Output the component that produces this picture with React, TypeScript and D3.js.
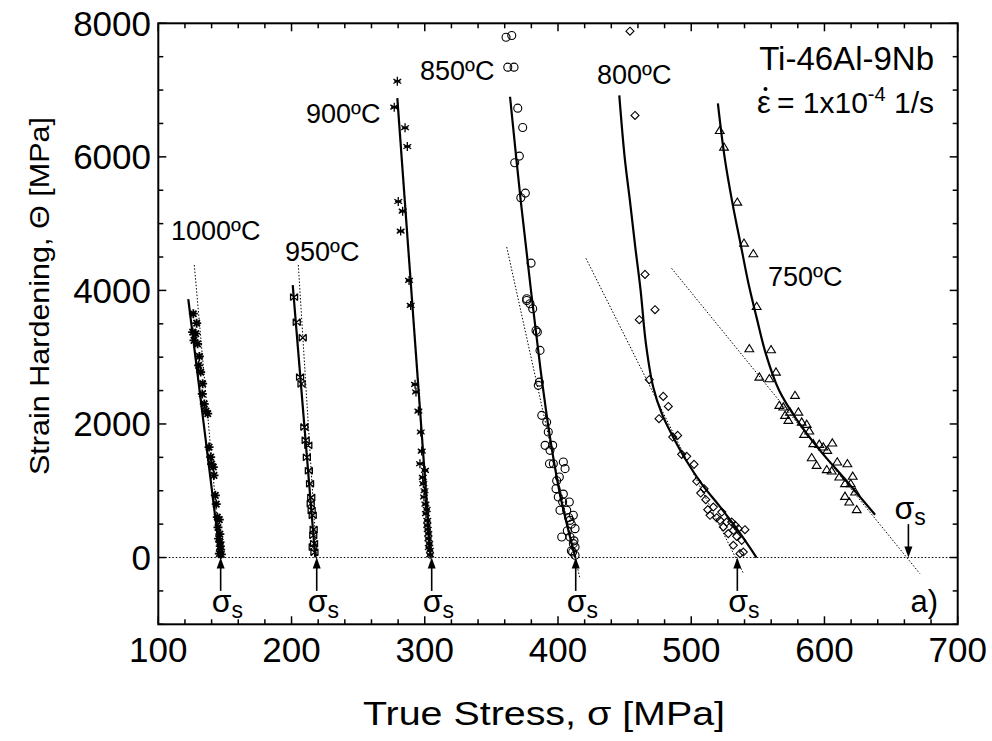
import React from 'react';
import * as d3 from 'd3';

const W = 992;
const H = 741;
const FONT = '"Liberation Sans", Arial, Helvetica, sans-serif';

const xDomain: [number, number] = [100, 700];
const yDomain: [number, number] = [-1000, 8000];
const xTickLabels = [100, 200, 300, 400, 500, 600, 700];
const yTickLabels = [0, 2000, 4000, 6000, 8000];

const temperatures = ['1000ºC', '950ºC', '900ºC', '850ºC', '800ºC', '750ºC'];
const sigmaS = [146.8, 218.9, 305.2, 413.3, 534.6, 663];

const pts1000: [number, number][] = [
  [126.3, 3651], [128.8, 3510], [125.8, 3376], [128.1, 3352], [126.8, 3252], [129.5, 3200],
  [130.8, 3012], [130.3, 2877], [131.8, 2777], [133.3, 2603], [133, 2450], [134.5, 2300],
  [135.8, 2193], [137.1, 2154], [138.1, 1654], [139.3, 1504], [140, 1400], [141.3, 1355],
  [141.8, 1231], [142.8, 931], [143.5, 800], [144.3, 606], [145.8, 567], [144.8, 450],
  [146.2, 350], [145.3, 283], [146.3, 232], [146.5, 170], [146.8, 118], [145.8, 58], [147.3, 48],
];
const pts950: [number, number][] = [
  [201.9, 3900], [203.9, 3525], [208.4, 3292], [206.4, 2702], [207.5, 2600], [209.6, 1954],
  [210.6, 1755], [212.6, 1680], [211.5, 1500], [213, 1300], [213.9, 1106], [214.8, 900],
  [214.4, 807], [215.1, 706], [215.9, 632], [216.6, 420], [216.3, 332], [216.9, 208],
  [215.9, 157], [217.2, 80],
];
const pts900: [number, number][] = [
  [279.4, 7133], [277.1, 6744], [285.2, 6435], [286.9, 6156], [280.1, 5332], [283.4, 5187],
  [281.9, 4888], [288.2, 4150], [289.4, 3775], [292.7, 2593], [293.4, 2478], [295.2, 2193],
  [297, 1879], [297.7, 1594], [296.4, 1405], [300.2, 1305], [298.5, 1200], [298.9, 1106],
  [299.8, 1000], [299.4, 906], [300.5, 800], [301.5, 720], [300.9, 657], [301.9, 557],
  [301.9, 482], [302.2, 420], [302.7, 358], [302.7, 283], [303.4, 208], [303, 150],
  [303.9, 108], [304, 40],
];
const pts850: [number, number][] = [
  [361, 7792], [365.3, 7817], [362.3, 7343], [367, 7343], [369.8, 6729], [373.5, 6440],
  [371, 6011], [367.5, 5912], [375.5, 5457], [372.1, 5388], [379.8, 4409], [376.5, 3876],
  [376.5, 3850], [379, 3801], [381, 3726], [383.5, 3401], [384.5, 3376], [386.5, 3102],
  [386, 2627], [385.2, 2578], [387.8, 2129], [391.5, 2028], [392.7, 1879], [390.3, 1680],
  [396, 1680], [394, 1605], [393.6, 1405], [396.5, 1405], [404, 1430], [405.3, 1331],
  [401, 1205], [399, 1150], [398.5, 1031], [400.2, 906], [404, 950], [403.5, 831],
  [408.5, 831], [401.5, 707], [406.5, 707], [411.5, 632], [408, 600], [409, 557],
  [410, 500], [412.8, 432], [407, 400], [402.8, 307], [409, 307], [412, 250], [411.5, 208],
  [412.8, 157], [410, 100], [411, 82], [412.8, 33],
];
const pts800: [number, number][] = [
  [454, 7882], [457.8, 6620], [465.3, 4240], [472.8, 3711], [461, 3561], [468.5, 2663],
  [479, 2413], [482.8, 2263], [475.8, 2079], [486.1, 1804], [489.8, 1829], [492.8, 1545],
  [496.6, 1515], [502.1, 1395], [504.1, 1141], [507.1, 966], [509.6, 1031], [510.9, 867],
  [512.4, 717], [516.6, 756], [514.1, 632], [522.9, 681], [519.1, 597], [521.6, 557],
  [526.6, 531], [530.4, 531], [524.1, 457], [533, 482], [531.6, 407], [535.3, 432],
  [540.3, 417], [527.8, 358], [534.1, 317], [537.9, 257], [531.6, 183], [539.1, 82], [536.6, 58],
];
const pts750: [number, number][] = [
  [521.4, 6394], [524.6, 6145], [534.6, 5322], [539.6, 4708], [546.6, 4549], [549.1, 3760],
  [543.6, 3127], [559.9, 3112], [563.6, 2777], [551.1, 2702], [558.6, 2678], [577.9, 2428],
  [566.1, 2278], [569.1, 2253], [574.1, 2178], [580.4, 2178], [570.4, 2129], [572.9, 2054],
  [582.9, 2028], [586.7, 1994], [588.6, 1894], [584.7, 1844], [591.6, 1705], [596.1, 1695],
  [599.1, 1654], [602.1, 1605], [605.9, 1714], [590.4, 1495], [594.1, 1380], [601.7, 1316],
  [605.4, 1295], [609.6, 1430], [617.2, 1405], [611.1, 1205], [615.4, 1106], [621.2, 1216],
  [619.7, 1106], [623, 981], [615.4, 916], [618.6, 831], [624.2, 717],
];

const fit1000: [number, number][] = [[122.5, 3870], [146.5, 0]];
const fit950: [number, number][] = [[200.9, 4080], [217.8, 0]];
const fit900: [number, number][] = [[279.4, 6880], [304.5, 0]];
const fit850: [number, number][] = [[364, 6900], [372, 5350], [380, 3950], [387, 2800], [394, 1800], [402, 900], [413, 0]];
const fit800: [number, number][] = [
  [446, 6920], [450, 6000], [454, 5340], [458, 4650], [462, 4000], [466, 3200], [471.5, 2550],
  [478, 2150], [486, 1820], [496, 1460], [508, 1100], [522, 750], [536, 380], [549, 0],
];
const fit750: [number, number][] = [
  [520, 6800], [525, 6000], [531, 5300], [537, 4700], [543, 4100], [549, 3600], [556, 3050],
  [566, 2500], [578, 2100], [596, 1620], [616, 1160], [638, 640],
];

const dot1000: [number, number][] = [[127, 4380], [147.3, -150]];
const dot950: [number, number][] = [[205.1, 4380], [219.2, -120]];
const dot850: [number, number][] = [[361.5, 4650], [416.5, -320]];
const dot800: [number, number][] = [[421, 4480], [539.5, -250]];
const dot750: [number, number][] = [[485.3, 4330], [671.6, -241]];

const x = d3.scaleLinear().domain(xDomain).range([158.3, 957.7]);
const y = d3.scaleLinear().domain(yDomain).range([624.3, 23.3]);

const star8 = 'M-4.5,0L4.5,0M0,-4.5L0,4.5M-3.2,-3.2L3.2,3.2M-3.2,3.2L3.2,-3.2';
const star6 = 'M0,-4.5L0,4.5M-3.9,-2.25L3.9,2.25M-3.9,2.25L3.9,-2.25M-3.2,0L3.2,0';
const bowtie = 'M-3.5,-3.5L3.5,3.5M-3.5,3.5L3.5,-3.5M-3.5,-3.5L-3.5,3.5M3.5,-3.5L3.5,3.5';
const diamond = 'M0,-4L4,0L0,4L-4,0Z';
const triangle = 'M0,-4.2L4.4,3L-4.4,3Z';

const lineGen = d3.line<[number, number]>().x(d => x(d[0])).y(d => y(d[1]));
const curveGen = d3.line<[number, number]>().x(d => x(d[0])).y(d => y(d[1])).curve(d3.curveCatmullRom.alpha(0.5));

function Markers({ data, kind }: { data: [number, number][]; kind: string }) {
  return (
    <g>
      {data.map((d, i) => {
        const t = `translate(${x(d[0])},${y(d[1])})`;
        if (kind === 'circle') return <circle key={i} cx={x(d[0])} cy={y(d[1])} r={4} fill="none" stroke="#000" strokeWidth={1.1} />;
        if (kind === 'diamond') return <path key={i} d={diamond} transform={t} fill="none" stroke="#000" strokeWidth={1.1} />;
        if (kind === 'triangle') return <path key={i} d={triangle} transform={t} fill="none" stroke="#000" strokeWidth={1.1} />;
        if (kind === 'star8') return <path key={i} d={star8} transform={t} fill="none" stroke="#000" strokeWidth={1.8} />;
        if (kind === 'star6') return <path key={i} d={star6} transform={t} fill="none" stroke="#000" strokeWidth={1.3} />;
        return <path key={i} d={bowtie} transform={t} fill="none" stroke="#000" strokeWidth={1.3} />;
      })}
    </g>
  );
}

function SigmaLabel({ cx, baseline }: { cx: number; baseline: number }) {
  return (
    <text x={cx - 9} y={baseline} fontSize={32} fontFamily={FONT}>
      σ<tspan fontSize={23} dy={6}>s</tspan>
    </text>
  );
}

export default function App() {
  const xMinor = d3.range(100, 701, 20);
  const yMinor = d3.range(-1000, 8001, 500);
  const [x0, x1] = x.range();
  const [yb, yt] = y.range();

  return (
    <svg width={W} height={H} style={{ position: 'absolute', left: 0, top: 0, background: '#fff' }} fontFamily={FONT}>
      <rect x={0} y={0} width={W} height={H} fill="#fff" />

      <line x1={x0} x2={x1} y1={y(0)} y2={y(0)} stroke="#000" strokeWidth={1} strokeDasharray="1.5,2" />

      {[dot1000, dot950, dot850, dot800, dot750].map((d, i) => (
        <path key={i} d={lineGen(d) || ''} fill="none" stroke="#000" strokeWidth={1} strokeDasharray="1.5,1.8" />
      ))}

      <Markers data={pts1000} kind="star8" />
      <Markers data={pts950} kind="bowtie" />
      <Markers data={pts900} kind="star6" />
      <Markers data={pts850} kind="circle" />
      <Markers data={pts800} kind="diamond" />
      <Markers data={pts750} kind="triangle" />

      {[fit1000, fit950, fit900].map((d, i) => (
        <path key={'l' + i} d={lineGen(d) || ''} fill="none" stroke="#000" strokeWidth={2.2} />
      ))}
      {[fit850, fit800, fit750].map((d, i) => (
        <path key={'c' + i} d={curveGen(d) || ''} fill="none" stroke="#000" strokeWidth={2.2} />
      ))}

      {sigmaS.slice(0, 5).map((s, i) => (
        <g key={'a' + i}>
          <line x1={x(s)} x2={x(s)} y1={y(-500)} y2={y(0) + 8} stroke="#000" strokeWidth={1.6} />
          <path d={`M${x(s)},${y(0)}L${x(s) + 4},${y(0) + 11}L${x(s) - 4},${y(0) + 11}Z`} fill="#000" />
          <SigmaLabel cx={x(s)} baseline={612} />
        </g>
      ))}
      <g>
        <line x1={x(sigmaS[5])} x2={x(sigmaS[5])} y1={y(500)} y2={y(0) - 8} stroke="#000" strokeWidth={1.6} />
        <path d={`M${x(sigmaS[5])},${y(0)}L${x(sigmaS[5]) + 4},${y(0) - 11}L${x(sigmaS[5]) - 4},${y(0) - 11}Z`} fill="#000" />
        <SigmaLabel cx={x(sigmaS[5]) - 5} baseline={519} />
      </g>

      <g fontSize={27}>
        <text x={171} y={240}>{temperatures[0]}</text>
        <text x={285} y={261}>{temperatures[1]}</text>
        <text x={306} y={123}>{temperatures[2]}</text>
        <text x={420} y={80}>{temperatures[3]}</text>
        <text x={597} y={84}>{temperatures[4]}</text>
        <text x={768} y={286}>{temperatures[5]}</text>
      </g>

      <text x={934} y={70} fontSize={33} textAnchor="end">Ti-46Al-9Nb</text>
      <text x={757} y={113} fontSize={31}>ε</text>
      <circle cx={765.5} cy={89} r={2} fill="#000" />
      <text x={934} y={113} fontSize={30} textAnchor="end">
        = 1x10<tspan fontSize={20} dy={-12}>-4</tspan><tspan dy={12}> 1/s</tspan>
      </text>

      <text x={938} y={612} fontSize={31} textAnchor="end">a)</text>

      <rect x={x0} y={yt} width={x1 - x0} height={yb - yt} fill="none" stroke="#000" strokeWidth={2} />

      {xMinor.map(v => {
        const major = v % 100 === 0;
        const len = major ? 8 : 5;
        return (
          <g key={'xt' + v}>
            <line x1={x(v)} x2={x(v)} y1={yb} y2={yb - len} stroke="#000" strokeWidth={1.5} />
            <line x1={x(v)} x2={x(v)} y1={yt} y2={yt + len} stroke="#000" strokeWidth={1.5} />
          </g>
        );
      })}
      {yMinor.map(v => {
        const major = v % 2000 === 0;
        const len = major ? 8 : 5;
        return (
          <g key={'yt' + v}>
            <line x1={x0} x2={x0 + len} y1={y(v)} y2={y(v)} stroke="#000" strokeWidth={1.5} />
            <line x1={x1} x2={x1 - len} y1={y(v)} y2={y(v)} stroke="#000" strokeWidth={1.5} />
          </g>
        );
      })}

      {xTickLabels.map(v => (
        <text key={'xl' + v} x={x(v)} y={661.7} fontSize={35} textAnchor="middle">{v}</text>
      ))}
      {yTickLabels.map(v => (
        <text key={'yl' + v} x={151} y={y(v)} dy="0.35em" fontSize={35} textAnchor="end">{v}</text>
      ))}

      <text x={544} y={725} fontSize={33} textAnchor="middle" textLength={362} lengthAdjust="spacingAndGlyphs">
        True Stress, σ [MPa]
      </text>
      <text transform="translate(49,296) rotate(-90)" fontSize={27} textAnchor="middle" textLength={358} lengthAdjust="spacingAndGlyphs">
        Strain Hardening, Θ [MPa]
      </text>
    </svg>
  );
}
